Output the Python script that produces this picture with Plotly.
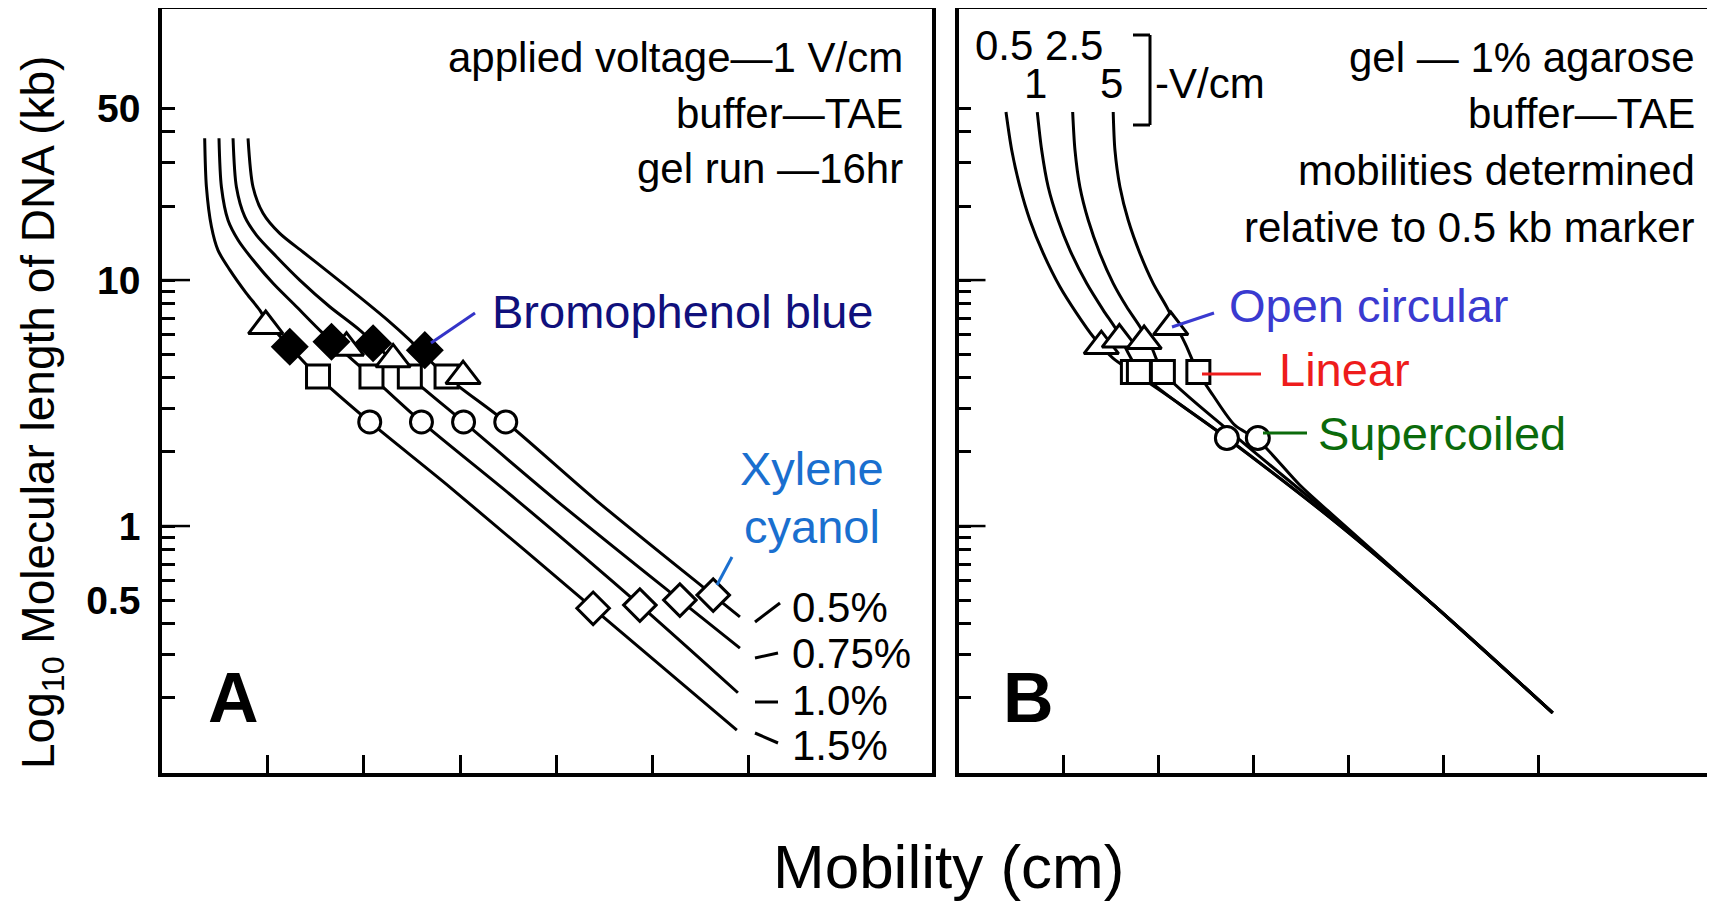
import plotly.graph_objects as go

# ---------------- data ----------------
# Panel A: agarose concentration curves (mobility in cm vs size in kb)
gel_labels = ["0.5%", "0.75%", "1.0%", "1.5%"]
a_mob_05 = [0.795, 0.847, 0.951, 1.125, 1.367, 1.645, 1.957, 2.235, 2.478, 2.863, 3.476, 4.413, 5.631, 5.912]
a_kb_05 = [37.7, 23.9, 18.7, 15.48, 13.0, 10.67, 8.53, 6.94, 5.70, 4.04, 2.65, 1.275, 0.524, 0.427]
a_mob_075 = [0.639, 0.674, 0.761, 0.882, 1.091, 1.333, 1.645, 1.957, 2.478, 3.037, 3.997, 5.287, 5.912]
a_kb_075 = [37.7, 23.9, 18.1, 15.24, 12.44, 10.0, 7.79, 6.26, 4.04, 2.65, 1.275, 0.500, 0.319]
a_mob_10 = [0.493, 0.518, 0.587, 0.691, 0.847, 1.055, 1.299, 1.575, 2.082, 2.599, 3.591, 4.871, 5.891]
a_kb_10 = [37.7, 23.9, 17.5, 14.55, 12.06, 9.70, 7.79, 6.07, 4.04, 2.65, 1.275, 0.477, 0.210]
a_mob_15 = [0.344, 0.362, 0.414, 0.483, 0.605, 0.778, 0.917, 0.979, 1.229, 1.523, 2.061, 2.894, 4.382, 5.880]
a_kb_15 = [37.7, 23.9, 16.5, 13.2, 11.0, 8.83, 7.55, 6.88, 5.36, 4.05, 2.65, 1.44, 0.464, 0.148]

# Panel A markers
a_tri_mob = [0.979, 1.819, 2.304, 3.032]
a_tri_kb = [6.50, 5.31, 4.76, 4.07]
a_bpb_mob = [1.229, 1.663, 2.096, 2.634]
a_bpb_kb = [5.36, 5.61, 5.53, 5.19]
a_sq_mob = [1.523, 2.079, 2.478, 2.860]
a_sq_kb = [4.05, 4.05, 4.05, 4.05]
a_circ_mob = [2.061, 2.599, 3.037, 3.476]
a_circ_kb = [2.65, 2.65, 2.65, 2.65]
a_xc_mob = [4.385, 4.871, 5.287, 5.634]
a_xc_kb = [0.463, 0.477, 0.500, 0.524]

# Panel B: voltage curves (V/cm)
volt_labels = ["0.5", "1", "2.5", "5"]
b_mob_05 = [0.398, 0.458, 0.545, 0.650, 0.790, 0.965, 1.141, 1.315, 1.522, 1.732, 2.226, 2.720, 3.833, 4.894, 6.144]
b_kb_05 = [48.2, 33.8, 23.9, 17.5, 12.83, 9.39, 7.32, 5.88, 4.82, 4.23, 3.13, 2.28, 1.06, 0.477, 0.174]
b_mob_1 = [0.727, 0.773, 0.842, 0.947, 1.070, 1.246, 1.420, 1.561, 1.806, 2.720, 3.833, 4.894, 6.144]
b_kb_1 = [48.2, 33.8, 23.9, 17.5, 13.24, 9.70, 7.55, 6.26, 4.23, 2.28, 1.06, 0.477, 0.174]
b_mob_25 = [1.099, 1.123, 1.175, 1.263, 1.385, 1.525, 1.666, 1.806, 1.932, 2.047, 2.856, 3.833, 4.894, 6.144]
b_kb_25 = [48.2, 33.8, 23.9, 17.5, 12.83, 9.70, 7.79, 6.46, 5.29, 4.23, 2.24, 1.088, 0.477, 0.174]
b_mob_5 = [1.525, 1.543, 1.596, 1.683, 1.806, 1.945, 2.086, 2.184, 2.289, 2.415, 2.572, 2.803, 3.045, 3.486, 3.833, 4.894, 6.144]
b_kb_5 = [48.2, 33.8, 23.9, 17.5, 12.83, 9.70, 7.79, 6.56, 5.44, 4.23, 3.41, 2.57, 2.24, 1.468, 1.108, 0.477, 0.174]

# Panel B markers
b_tri_mob = [1.40, 1.59, 1.85, 2.13]
b_tri_kb = [5.39, 5.73, 5.65, 6.44]
b_sq_mob = [1.732, 1.795, 2.047, 2.420]
b_sq_kb = [4.23, 4.23, 4.23, 4.23]
b_circ_mob = [2.720, 3.045]
b_circ_kb = [2.28, 2.28]

# axis ticks
y_tick_vals = [0.5, 1, 10, 50]
y_tick_text = ["0.5", "1", "10", "50"]
y_minor_vals = [0.2, 0.3, 0.4, 0.6, 0.7, 0.8, 0.9, 2, 3, 4, 5, 6, 7, 8, 9, 20, 30, 40]
y_long_ticks = [1, 10]
x_tick_vals = [1, 2, 3, 4, 5, 6]

# ---------------- figure ----------------
# The page body has an 8px default margin, so the figure is made 8px smaller
# and all layout positions below are given in screen (window) pixels.
OFF = 8
SW, SH = 1715, 904                     # window size
PLOT_L, PLOT_T, PLOT_B = 162, 9, 773   # plot area in screen pixels
W, H = SW - OFF, SH - OFF
L, T, B, R = PLOT_L - OFF, PLOT_T - OFF, SH - PLOT_B, 0
PW, PH = SW - PLOT_L - R, PLOT_B - PLOT_T
FONT = "Liberation Sans, Arial, sans-serif"


def px(X):
    return (X - PLOT_L) / PW


def py(Y):
    return (PLOT_B - Y) / PH


def mid(baseline, fs):
    return py(baseline - 0.347 * fs)


fig = go.Figure()

line_style = dict(color="black", width=3, shape="spline", smoothing=0.8)
for xs, ys in [(a_mob_05, a_kb_05), (a_mob_075, a_kb_075), (a_mob_10, a_kb_10), (a_mob_15, a_kb_15)]:
    fig.add_trace(go.Scatter(x=xs, y=ys, mode="lines", line=line_style, xaxis="x", yaxis="y",
                             hoverinfo="skip", showlegend=False))
for xs, ys in [(b_mob_05, b_kb_05), (b_mob_1, b_kb_1), (b_mob_25, b_kb_25), (b_mob_5, b_kb_5)]:
    fig.add_trace(go.Scatter(x=xs, y=ys, mode="lines", line=line_style, xaxis="x2", yaxis="y2",
                             hoverinfo="skip", showlegend=False))


def mk(xs, ys, sym, size, fill, ax):
    fig.add_trace(go.Scatter(
        x=xs, y=ys, mode="markers", xaxis=ax[0], yaxis=ax[1], showlegend=False, hoverinfo="skip",
        marker=dict(symbol=sym, size=size, color=fill, line=dict(color="black", width=3))))


A = ("x", "y")
Bx = ("x2", "y2")
mk(a_circ_mob, a_circ_kb, "circle", 22, "white", A)
mk(a_sq_mob, a_sq_kb, "square", 23, "white", A)
mk(a_xc_mob, a_xc_kb, "diamond", 25, "white", A)
mk(a_tri_mob, a_tri_kb, "triangle-up", 30, "white", A)
mk(a_bpb_mob, a_bpb_kb, "diamond", 26, "black", A)
mk(b_circ_mob, b_circ_kb, "circle", 23, "white", Bx)
mk(b_sq_mob, b_sq_kb, "square", 23, "white", Bx)
mk(b_tri_mob, b_tri_kb, "triangle-up", 30, "white", Bx)

axis_common = dict(showgrid=False, zeroline=False, showline=True, linecolor="black", linewidth=3.5,
                   ticks="inside", tickcolor="black", tickwidth=2.5)
yax = dict(axis_common, type="log", range=[-1.004, 2.102], tickvals=y_tick_vals, ticktext=y_tick_text,
           ticklen=13, domain=[0, 1],
           tickfont=dict(family=FONT, size=39, color="black", weight="bold"),
           minor=dict(tickvals=y_minor_vals, ticks="inside", ticklen=13, tickwidth=2.5,
                      tickcolor="black", showgrid=False))
fig.update_layout(
    width=W, height=H, margin=dict(l=L, r=R, t=T, b=B, autoexpand=False),
    paper_bgcolor="white", plot_bgcolor="white",
    xaxis=dict(axis_common, range=[-0.10, 7.91], tickvals=x_tick_vals, ticklen=18,
               showticklabels=False, mirror=True, domain=[0, 770 / PW], anchor="y"),
    yaxis=dict(yax, mirror=True, anchor="x", ticklabelstandoff=10),
    xaxis2=dict(axis_common, range=[-0.101, 7.85], tickvals=x_tick_vals, ticklen=18,
                showticklabels=False, mirror=True, domain=[(958.5 - PLOT_L) / PW, 1], anchor="y2"),
    yaxis2=dict(yax, mirror=False, anchor="x2", showticklabels=False),
)

shapes = []
for v in y_long_ticks:
    shapes.append(dict(type="line", xref="x domain", yref="y", x0=0, x1=28 / 770, y0=v, y1=v,
                       line=dict(color="black", width=2.5)))
    shapes.append(dict(type="line", xref="x2 domain", yref="y2", x0=0, x1=27 / 756.5, y0=v, y1=v,
                       line=dict(color="black", width=2.5)))


def seg(x0, y0, x1, y1, color="black", width=3):
    shapes.append(dict(type="line", xref="paper", yref="paper", x0=px(x0), y0=py(y0), x1=px(x1), y1=py(y1),
                       line=dict(color=color, width=width)))


# gel % label leaders
seg(755, 622, 780, 603)
seg(755, 658, 778, 653)
seg(755, 702, 778, 702)
seg(755, 733, 778, 743)
# dye / form leaders
seg(431, 343, 475, 313, "#3434c8")
seg(732, 557, 717, 585, "#1a6fcf")
seg(1172, 327, 1214, 313, "#3a3ad0")
seg(1202, 374, 1261, 374, "#ee1c1c")
seg(1263, 433, 1307, 433, "#0b6b0b")
# V/cm bracket
seg(1133, 35, 1150, 35)
seg(1150, 35, 1150, 125)
seg(1133, 125, 1150, 125)
fig.update_layout(shapes=shapes)

ann = []


def txt(text, X, baseline, fs, anchor="left", color="black", bold=False, family=FONT):
    ann.append(dict(text=text, x=px(X), y=mid(baseline, fs), xref="paper", yref="paper",
                    xanchor=anchor, yanchor="middle", showarrow=False,
                    font=dict(family=family, size=fs, color=color, weight="bold" if bold else "normal")))


# panel A notes
txt("applied voltage\u20141 V/cm", 905, 72, 42, "right")
txt("buffer\u2014TAE", 905, 128, 42, "right")
txt("gel run \u201416hr", 905, 183, 42, "right")
txt("Bromophenol blue", 490, 328, 47, "left", "#10107c")
txt("Xylene", 812, 485, 47, "center", "#1a6fcf")
txt("cyanol", 812, 543, 47, "center", "#1a6fcf")
for lab, bl in zip(gel_labels, [622, 668, 715, 760]):
    txt(lab, 790, bl, 42, "left")
txt("A", 233, 722, 70, "center", bold=True)

# panel B notes
txt("gel \u2014 1% agarose", 1697, 72, 42, "right")
txt("buffer\u2014TAE", 1697, 128, 42, "right")
txt("mobilities determined", 1697, 185, 42, "right")
txt("relative to 0.5 kb marker", 1697, 242, 42, "right")
txt(volt_labels[0] + " " + volt_labels[2], 973, 60, 42, "left")
txt(volt_labels[1], 1035, 98, 42, "center")
txt(volt_labels[3], 1111, 98, 42, "center")
txt("-V/cm", 1153, 98, 42, "left")
txt("Open circular", 1227, 322, 47, "left", "#3a3ad0")
txt("Linear", 1277, 386, 47, "left", "#ee1c1c")
txt("Supercoiled", 1316, 450, 47, "left", "#0b6b0b")
txt("B", 1028, 722, 70, "center", bold=True)

# axis titles
txt("Mobility (cm)", 948, 888, 62, "center")
ann.append(dict(text="Log<sub>10</sub> Molecular length of DNA (kb)", x=px(41), y=py(413),
                xref="paper", yref="paper", xanchor="center", yanchor="middle", textangle=-90,
                showarrow=False, font=dict(family=FONT, size=46, color="black")))
fig.update_layout(annotations=ann)

fig.write_html("out.html")
